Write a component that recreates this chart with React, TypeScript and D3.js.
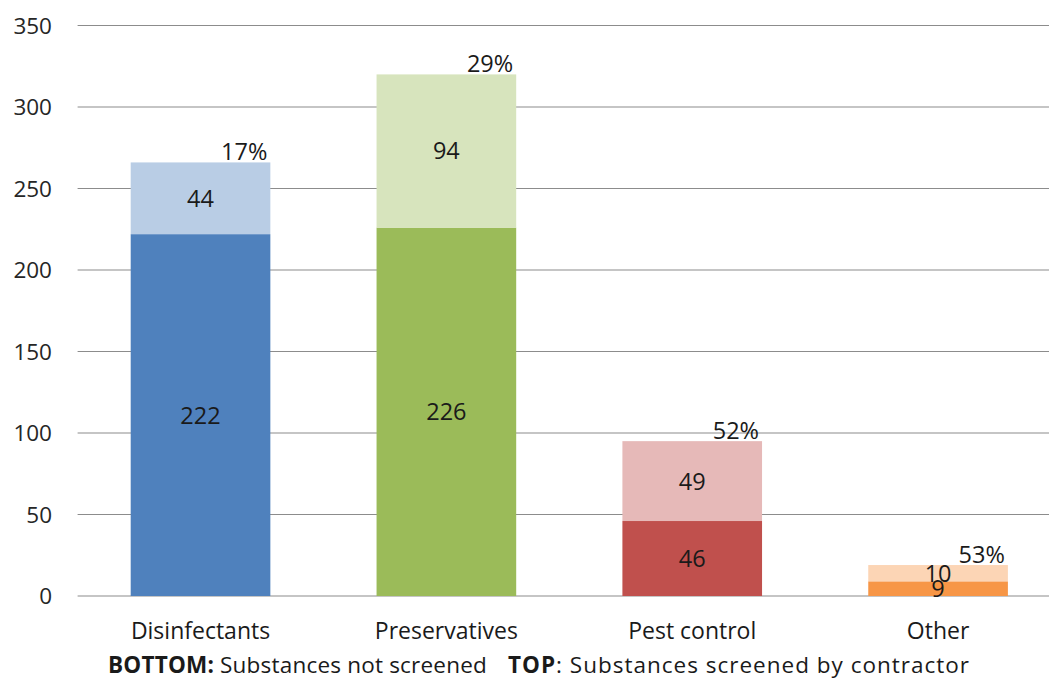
import React from "react";
import * as d3 from "d3";

const categories = ["Disinfectants", "Preservatives", "Pest control", "Other"];
const notScreened = [222, 226, 46, 9];
const screened = [44, 94, 49, 10];
const percentLabels = ["17%", "29%", "52%", "53%"];
const yTicks = [0, 50, 100, 150, 200, 250, 300, 350];
const bottomColors = ["#4F81BD", "#9BBB59", "#C0504D", "#F79646"];
const topColors = ["#B9CDE5", "#D7E4BD", "#E6B9B8", "#FCD5B5"];

const W = 1049;
const H = 680;
const FONT = "'Open Sans', 'DejaVu Sans', sans-serif";

export default function App() {
  const x = d3
    .scaleBand<string>()
    .domain(categories)
    .range([77.6, 1061])
    .paddingInner(0.432)
    .paddingOuter(0.216);
  const y = d3.scaleLinear().domain([0, 350]).range([596, 25.5]);
  const bw = x.bandwidth();

  return (
    <svg
      width={W}
      height={H}
      style={{ position: "absolute", left: 0, top: 0, background: "#fff" }}
      fontFamily={FONT}
    >
      {yTicks.map((t) => (
        <g key={t}>
          <line x1={77.6} x2={1061} y1={y(t)} y2={y(t)} stroke="#8c8c8c" strokeWidth={1.2} />
          <text x={52} y={y(t)} dy="0.36em" textAnchor="end" fontSize={22.5} fill="#262626">
            {t}
          </text>
        </g>
      ))}
      {categories.map((c, i) => {
        const x0 = x(c)!;
        const b = notScreened[i];
        const s = screened[i];
        const total = b + s;
        return (
          <g key={c}>
            <rect x={x0} width={bw} y={y(b)} height={y(0) - y(b)} fill={bottomColors[i]} />
            <rect x={x0} width={bw} y={y(total)} height={y(b) - y(total)} fill={topColors[i]} />
            <text
              x={x0 + bw / 2}
              y={(y(0) + y(b)) / 2}
              dy="0.36em"
              textAnchor="middle"
              fontSize={23.5}
              fill="#1a1a1a"
            >
              {b}
            </text>
            <text
              x={x0 + bw / 2}
              y={(y(b) + y(total)) / 2}
              dy="0.36em"
              textAnchor="middle"
              fontSize={23.5}
              fill="#1a1a1a"
            >
              {s}
            </text>
            <text x={x0 + bw - 3} y={y(total) - 2} textAnchor="end" fontSize={23.5} fill="#1a1a1a">
              {percentLabels[i]}
            </text>
            <text x={x0 + bw / 2} y={639} textAnchor="middle" fontSize={23} fill="#1a1a1a">
              {c}
            </text>
          </g>
        );
      })}
      <text x={108} y={673} fontSize={22.5} fill="#1a1a1a" letterSpacing={0.2}>
        <tspan fontWeight="bold">BOTTOM:</tspan>
        <tspan> Substances not screened</tspan>
      </text>
      <text x={508} y={673} fontSize={22.5} fill="#1a1a1a" letterSpacing={1}>
        <tspan fontWeight="bold">TOP</tspan>
        <tspan>: Substances screened by contractor</tspan>
      </text>
    </svg>
  );
}
